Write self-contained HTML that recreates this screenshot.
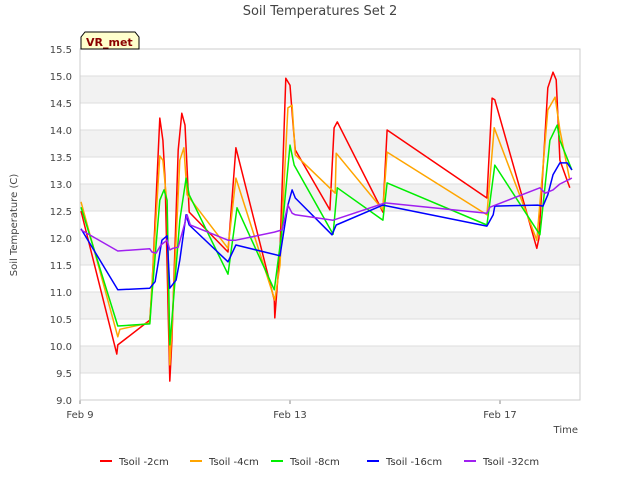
<!DOCTYPE html>
<html><head><meta charset="utf-8"><style>
body{margin:0;background:#fff;font-family:"DejaVu Sans",sans-serif}
svg text{font-family:"DejaVu Sans",sans-serif}
</style></head><body>
<svg id="chart" width="640" height="480" viewBox="0 0 640 480">
<text x="320" y="15" text-anchor="middle" font-size="13" fill="#444">Soil Temperatures Set 2</text>
<g id="grid"></g>
<g id="series"></g>
<rect x="80" y="49" width="500" height="351" fill="none" stroke="#ccc"/>
<text transform="translate(17,225) rotate(-90)" text-anchor="middle" font-size="10" fill="#444">Soil Temperature (C)</text>
<text x="578" y="433" text-anchor="end" font-size="10" fill="#444">Time</text>
<g>
<path d="M81,49 L81,37 L85,32 L135,32 L139,37 L139,49 Z" fill="#ffffcc" stroke="#000"/>
<text x="86" y="46" font-size="11" font-weight="bold" fill="#8b0000">VR_met</text></g>
<g id="legend"></g>
</svg>
<script>
const yTicks=[9.0,9.5,10.0,10.5,11.0,11.5,12.0,12.5,13.0,13.5,14.0,14.5,15.0,15.5];
const xTickDays=[0,4,8];
const xTickLabels=["Feb 9","Feb 13","Feb 17"];
const seriesNames=["Tsoil -2cm","Tsoil -4cm","Tsoil -8cm","Tsoil -16cm","Tsoil -32cm"];
const seriesColors=["#ff0000","#ffa500","#00ee00","#0000ff","#a020f0"];
const t2=[0.02,0.70,0.72,1.33,1.37,1.52,1.58,1.62,1.71,1.75,1.87,1.94,2.00,2.08,2.82,2.97,3.70,3.71,3.81,3.92,4.00,4.06,4.10,4.76,4.84,4.90,5.77,5.85,7.75,7.85,7.90,8.70,8.74,8.91,9.01,9.07,9.14,9.33];
const v2=[12.50,9.85,10.02,10.48,11.04,14.22,13.81,13.07,9.35,10.11,13.63,14.31,14.09,12.48,11.74,13.67,10.85,10.52,11.78,14.96,14.83,14.09,13.63,12.52,14.04,14.15,12.48,14.0,12.74,14.59,14.56,11.81,11.99,14.78,15.07,14.93,13.44,12.93];
const t4=[0.02,0.72,0.76,1.33,1.37,1.52,1.58,1.66,1.71,1.75,1.90,1.98,2.04,2.82,2.97,3.71,3.81,3.96,4.04,4.10,4.86,4.88,5.77,5.85,7.75,7.89,8.70,8.91,9.05,9.14,9.33];
const v4=[12.67,10.17,10.31,10.43,11.13,13.52,13.44,12.61,9.65,10.30,13.44,13.67,12.80,11.81,13.11,10.85,11.50,14.41,14.46,13.54,12.83,13.57,12.52,13.59,12.43,14.04,11.96,14.37,14.61,14.0,13.07];
const t8=[0.02,0.72,1.33,1.37,1.52,1.60,1.66,1.71,1.75,1.90,2.02,2.08,2.82,2.99,3.70,3.85,4.00,4.08,4.82,4.90,5.77,5.85,7.75,7.90,8.76,8.95,9.09,9.14,9.37];
const v8=[12.57,10.37,10.41,10.94,12.70,12.89,12.70,10.02,10.48,12.33,13.11,12.80,11.33,12.56,11.04,12.15,13.72,13.35,12.07,12.93,12.33,13.02,12.24,13.35,12.06,13.81,14.09,13.81,13.26];
const t16=[0.02,0.72,1.33,1.43,1.56,1.66,1.71,1.83,1.90,2.02,2.08,2.82,2.97,3.81,3.96,4.04,4.10,4.80,4.88,5.77,7.75,7.87,7.90,8.72,8.82,8.91,9.01,9.14,9.28,9.37];
const v16=[12.17,11.04,11.07,11.19,11.96,12.04,11.07,11.22,11.59,12.43,12.24,11.56,11.87,11.67,12.61,12.89,12.74,12.06,12.24,12.61,12.22,12.43,12.59,12.61,12.59,12.80,13.17,13.39,13.39,13.26];
const t32=[0.02,0.72,1.33,1.37,1.45,1.54,1.66,1.71,1.77,1.87,2.04,2.10,2.82,2.97,3.70,3.85,3.96,4.04,4.10,4.82,5.81,7.75,7.81,8.76,8.86,9.01,9.14,9.37];
const v32=[12.15,11.76,11.80,11.74,11.72,11.87,11.96,11.78,11.81,11.83,12.43,12.24,11.96,11.96,12.11,12.15,12.61,12.46,12.43,12.33,12.65,12.46,12.57,12.93,12.83,12.89,13.0,13.11];
const allT=[t2,t4,t8,t16,t32], allV=[v2,v4,v8,v16,v32];
const NS="http://www.w3.org/2000/svg";
const X0=80,X1=580,Y0=400,Y1=49,DMIN=0,DMAX=500/52.5,VMIN=9,VMAX=15.5;
const sx=d=>X0+(d-DMIN)/(DMAX-DMIN)*(X1-X0);
const sy=v=>Y0-(v-VMIN)/(VMAX-VMIN)*(Y0-Y1);
function mk(tag,attrs,parent){const e=document.createElementNS(NS,tag);for(const k in attrs)e.setAttribute(k,attrs[k]);parent.appendChild(e);return e;}
const grid=document.getElementById('grid');
for(let i=0;i<yTicks.length-1;i++){
 if(i%2===1){const r=mk('rect',{x:X0,y:sy(yTicks[i+1]),width:X1-X0,height:sy(yTicks[i])-sy(yTicks[i+1]),fill:'#f2f2f2'},grid);
 
 }
}
yTicks.forEach(v=>{
 const l=mk('line',{x1:X0,x2:X1,y1:sy(v),y2:sy(v),stroke:'#ddd'},grid);
 
 
 const t=mk('text',{x:72,y:sy(v)+4,'text-anchor':'end','font-size':10,fill:'#444'},grid);
 t.textContent=v.toFixed(1);
 
 
});
xTickDays.forEach((d,i)=>{
 const l=mk('line',{x1:sx(d),x2:sx(d),y1:Y0,y2:Y0+4,stroke:'#888'},grid);
 
 
 const t=mk('text',{x:sx(d),y:418,'text-anchor':'middle','font-size':10,fill:'#444'},grid);
 t.textContent=xTickLabels[i];
 
 
});
const sg=document.getElementById('series');
allT.forEach((ts,i)=>{
 const pts=ts.map((d,j)=>sx(d).toFixed(1)+','+sy(allV[i][j]).toFixed(1)).join(' ');
 const p=mk('polyline',{points:pts,fill:'none',stroke:seriesColors[i],'stroke-width':1.5,'stroke-linejoin':'round'},sg);
 
 
});
const lg=document.getElementById('legend');
const lx=[100,190,271,367,464];
seriesNames.forEach((n,i)=>{
 const g=mk('g',{},lg);
 
 
 mk('line',{x1:lx[i],x2:lx[i]+12,y1:461,y2:461,stroke:seriesColors[i],'stroke-width':2},g);
 const t=mk('text',{x:lx[i]+19,y:465,'font-size':10,fill:'#333'},g);
 t.textContent=n;
});
</script>
</body></html>
